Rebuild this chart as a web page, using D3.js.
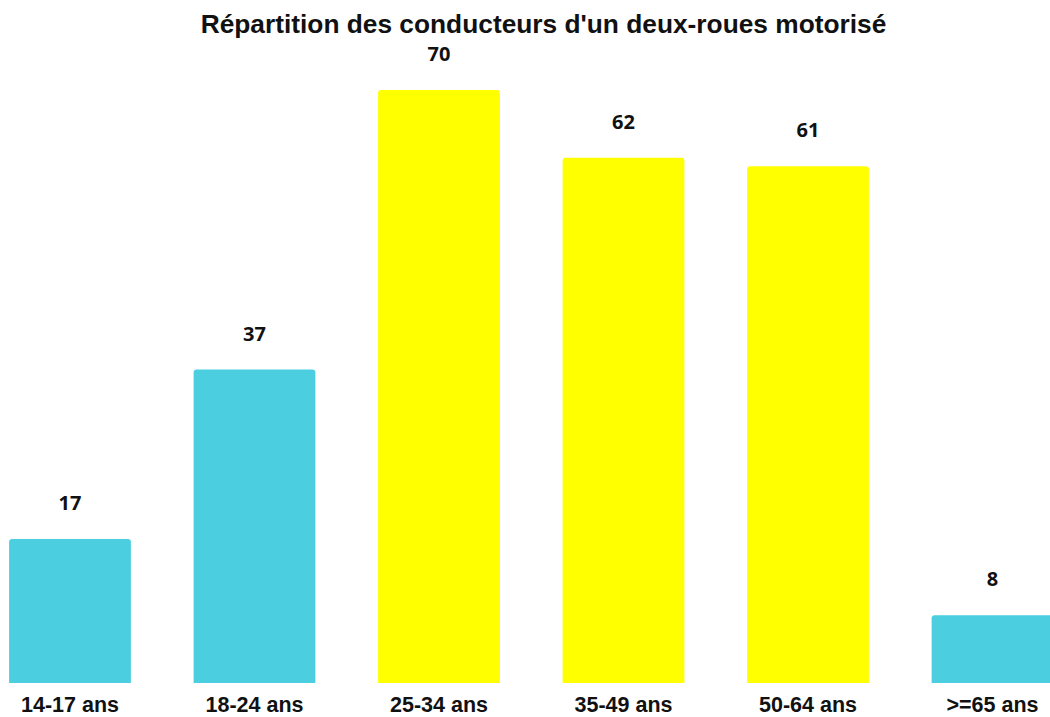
<!DOCTYPE html>
<html>
<head>
<meta charset="utf-8">
<script src="https://cdn.jsdelivr.net/npm/d3@7"></script>
<style>
  html, body { margin: 0; padding: 0; background: #fff; overflow: hidden; }
</style>
</head>
<body>
<div id="app"></div>
<script>
// chart data
const categories = ['14-17 ans', '18-24 ans', '25-34 ans', '35-49 ans', '50-64 ans', '>=65 ans'];
const values = [17, 37, 70, 62, 61, 8];
const highlighted = ['25-34 ans', '35-49 ans', '50-64 ans'];
const title = "Répartition des conducteurs d'un deux-roues motorisé";

const width = 1050, height = 717;
const baseline = 683;

const svg = d3.select('#app').append('svg')
  .attr('width', width)
  .attr('height', height);

const x = d3.scaleBand()
  .domain(categories)
  .range([-22.25, 1084.75])
  .paddingInner(0.34)
  .paddingOuter(0.17);

const y = d3.scaleLinear()
  .domain([0, 70])
  .range([baseline, 90]);

const color = (c) => highlighted.includes(c) ? '#ffff00' : '#4bcee0';

// bar with rounded top corners only
function barPath(x0, y0, w, h, r) {
  return `M${x0},${y0 + h}V${y0 + r}Q${x0},${y0} ${x0 + r},${y0}` +
    `H${x0 + w - r}Q${x0 + w},${y0} ${x0 + w},${y0 + r}V${y0 + h}Z`;
}

const data = categories.map((c, i) => ({ cat: c, value: values[i] }));

svg.append('g').selectAll('path')
  .data(data)
  .join('path')
  .attr('d', (d) => barPath(x(d.cat), y(d.value), x.bandwidth(), y(0) - y(d.value), 3))
  .attr('fill', (d) => color(d.cat));

// value labels
svg.append('g').selectAll('text')
  .data(data)
  .join('text')
  .attr('x', (d) => x(d.cat) + x.bandwidth() / 2)
  .attr('y', (d) => y(d.value) - 29)
  .attr('text-anchor', 'middle')
  .style('font-family', '"Open Sans", sans-serif')
  .style('font-weight', 'bold')
  .style('font-size', '20px')
  .attr('fill', '#111')
  .text((d) => d.value);

// category axis labels
svg.append('g').selectAll('text')
  .data(categories)
  .join('text')
  .attr('x', (d) => x(d) + x.bandwidth() / 2)
  .attr('y', 712)
  .attr('text-anchor', 'middle')
  .style('font-family', '"Liberation Sans", Arial, sans-serif')
  .style('font-weight', 'bold')
  .style('font-size', '21.5px')
  .attr('fill', '#111')
  .text((d) => d);

svg.append('text')
  .attr('x', 543.5)
  .attr('y', 33)
  .attr('text-anchor', 'middle')
  .style('font-family', '"Liberation Sans", Arial, sans-serif')
  .style('font-weight', 'bold')
  .style('font-size', '26.3px')
  .attr('fill', '#111')
  .text(title);
</script>
</body>
</html>
